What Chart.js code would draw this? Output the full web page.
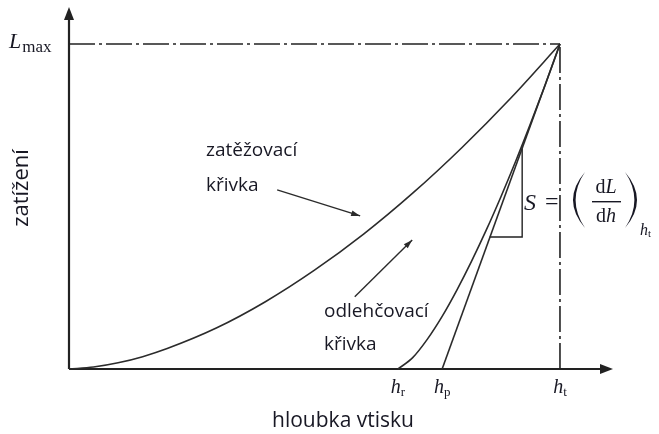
<!DOCTYPE html>
<html>
<head>
<meta charset="utf-8">
<script src="https://cdn.jsdelivr.net/npm/chart.js@4.4.1/dist/chart.umd.min.js"></script>
<style>
  html, body { margin: 0; padding: 0; background: #ffffff; }
  #wrap { width: 659px; height: 434px; }
</style>
</head>
<body>
<div id="wrap"><canvas id="c" width="659" height="434"></canvas></div>
<script>
// Indentation depth h (relative units, h_t = 100) and load L (L_max = 100)
const H_LOAD = [0, 5, 10, 15, 20, 30, 40, 50, 60, 70, 80, 90, 100];
const L_LOAD = [0, 0.6, 1.9, 3.8, 6.3, 12.6, 20.7, 30.4, 41.5, 54.1, 68.1, 83.4, 100];

const H_UNLOAD = [67, 70, 73, 76, 79, 82, 85, 88, 91, 94, 97, 100];
const L_UNLOAD = [0, 3.5, 9.2, 16.2, 24.3, 33.2, 42.8, 53.1, 64.0, 75.5, 87.5, 100];

// characteristic depths and maximum load
const H_R = 67;
const H_P = 76;
const H_T = 100;
const L_MAX = 100;

// slope triangle on the tangent
const H_TRI = [85.7, 92.3, 92.3];
const L_TRI = [40.6, 40.6, 67.9];

// pointer arrows (start -> tip)
const H_ARROW_LOAD = [42.4, 59.3];
const L_ARROW_LOAD = [55.1, 47.1];
const H_ARROW_UNLOAD = [58.2, 69.9];
const L_ARROW_UNLOAD = [22.2, 39.7];

// axis extents
const H_AXIS_END = 110.8;
const L_AXIS_END = 111.4;

const pts = (xs, ys) => xs.map((x, i) => ({ x: x, y: ys[i] }));

const INK = '#222222';
const CURVE = '#2b2b2b';
const TEXT = '#181824';
const SANS = '"Open Sans", "DejaVu Sans", sans-serif';
const SERIF = '"Liberation Serif", "DejaVu Serif", serif';

const line = (data, extra) => Object.assign({
  data: data, showLine: true, pointRadius: 0, borderColor: CURVE,
  borderWidth: 1.6, fill: false, tension: 0, clip: false
}, extra || {});

function arrowHead(ctx, x1, y1, x2, y2, len, half) {
  const a = Math.atan2(y2 - y1, x2 - x1);
  ctx.beginPath();
  ctx.moveTo(x2, y2);
  ctx.lineTo(x2 - len * Math.cos(a) + half * Math.sin(a), y2 - len * Math.sin(a) - half * Math.cos(a));
  ctx.lineTo(x2 - len * Math.cos(a) - half * Math.sin(a), y2 - len * Math.sin(a) + half * Math.cos(a));
  ctx.closePath();
  ctx.fill();
}

// tall parenthesis drawn as a filled crescent
function paren(ctx, endX, midOuter, midInner, top, bottom) {
  const cOut = (4 * midOuter - 2 * endX) / 2;
  const cIn = (4 * midInner - 2 * endX) / 2;
  const mid = (top + bottom) / 2;
  ctx.beginPath();
  ctx.moveTo(endX, top);
  ctx.quadraticCurveTo(cOut, mid, endX, bottom);
  ctx.quadraticCurveTo(cIn, mid, endX, top);
  ctx.closePath();
  ctx.fill();
}

// a run of text pieces laid out left to right
function run(ctx, parts, x, y) {
  let cx = x;
  parts.forEach(p => {
    ctx.font = p[1];
    ctx.fillText(p[0], cx, y + (p[2] || 0));
    cx += ctx.measureText(p[0]).width + (p[3] || 0);
  });
  return cx - x;
}
function runWidth(ctx, parts) {
  let w = 0;
  parts.forEach(p => { ctx.font = p[1]; w += ctx.measureText(p[0]).width + (p[3] || 0); });
  return w;
}

const decorations = {
  id: 'decorations',
  afterDatasetsDraw(chart) {
    const ctx = chart.ctx;
    const xs = chart.scales.x, ys = chart.scales.y;
    const px = v => xs.getPixelForValue(v);
    const py = v => ys.getPixelForValue(v);
    ctx.save();

    // axis arrowheads
    ctx.fillStyle = INK;
    arrowHead(ctx, px(0), py(0), px(0), py(L_AXIS_END), 13, 5);
    arrowHead(ctx, px(0), py(0), px(H_AXIS_END), py(0), 13, 5);

    // pointer arrowheads
    ctx.fillStyle = CURVE;
    arrowHead(ctx, px(H_ARROW_LOAD[0]), py(L_ARROW_LOAD[0]), px(H_ARROW_LOAD[1]), py(L_ARROW_LOAD[1]), 9, 2.8);
    arrowHead(ctx, px(H_ARROW_UNLOAD[0]), py(L_ARROW_UNLOAD[0]), px(H_ARROW_UNLOAD[1]), py(L_ARROW_UNLOAD[1]), 9, 2.8);

    // sans labels
    ctx.fillStyle = TEXT;
    ctx.textAlign = 'left';
    ctx.textBaseline = 'alphabetic';
    ctx.font = '19px ' + SANS;
    ctx.fillText('zatěžovací', 206, 156);
    ctx.fillText('křivka', 206, 191);
    ctx.fillText('odlehčovací', 324, 317);
    ctx.fillText('křivka', 324, 350);

    ctx.font = '21px ' + SANS;
    ctx.textAlign = 'center';
    ctx.fillText('hloubka vtisku', 343, 427);

    ctx.save();
    ctx.translate(28, 188);
    ctx.rotate(-Math.PI / 2);
    ctx.font = '22px ' + SANS;
    ctx.textAlign = 'center';
    ctx.fillText('zatížení', 0, 0);
    ctx.restore();

    // L_max on the load axis
    ctx.textAlign = 'left';
    run(ctx, [['L', 'italic 22px ' + SERIF, 0, 1], ['max', '17px ' + SERIF, 4]], 9, py(L_MAX) + 4);

    // depth labels h_r, h_p, h_t under the axis
    const hLabel = (h, sub) => {
      const parts = [['h', 'italic 20px ' + SERIF], [sub, '13px ' + SERIF, 3]];
      const w = runWidth(ctx, parts);
      run(ctx, parts, px(h) - w / 2, 393);
    };
    hLabel(H_R, 'r');
    hLabel(H_P, 'p');
    hLabel(H_T, 't');

    // stiffness formula S = (dL/dh)_{h_t}
    ctx.font = 'italic 24px ' + SERIF;
    ctx.fillText('S', 524, 210);
    ctx.font = '24px ' + SERIF;
    ctx.fillText('=', 545, 209);
    paren(ctx, 585, 573, 575.6, 172, 228);
    paren(ctx, 625, 637, 634.4, 172, 228);
    const num = [['d', '20px ' + SERIF], ['L', 'italic 20px ' + SERIF]];
    const den = [['d', '20px ' + SERIF], ['h', 'italic 20px ' + SERIF]];
    const fx = 606;
    run(ctx, num, fx - runWidth(ctx, num) / 2, 193);
    run(ctx, den, fx - runWidth(ctx, den) / 2, 222);
    ctx.fillRect(592, 201, 29, 1.4);
    run(ctx, [['h', 'italic 16px ' + SERIF], ['t', '11px ' + SERIF, 2]], 640, 235);

    ctx.restore();
  }
};

const whiteBg = {
  id: 'whiteBg',
  beforeDraw(chart) {
    const ctx = chart.ctx;
    ctx.save();
    ctx.fillStyle = '#ffffff';
    ctx.fillRect(0, 0, chart.width, chart.height);
    ctx.restore();
  }
};

new Chart(document.getElementById('c'), {
  type: 'scatter',
  data: {
    datasets: [
      // reference lines at L_max and h_t
      line([{ x: 0, y: L_MAX }, { x: H_T, y: L_MAX }], { borderColor: INK, borderWidth: 1.6, borderDash: [26, 4, 3, 4] }),
      line([{ x: H_T, y: 0 }, { x: H_T, y: L_MAX }], { borderColor: INK, borderWidth: 1.6, borderDash: [26, 4, 3, 4] }),
      // loading curve
      line(pts(H_LOAD, L_LOAD), { cubicInterpolationMode: 'monotone' }),
      // unloading curve
      line(pts(H_UNLOAD, L_UNLOAD), { cubicInterpolationMode: 'monotone' }),
      // tangent at the top of the unloading curve
      line([{ x: H_P, y: 0 }, { x: H_T, y: L_MAX }]),
      // slope triangle
      line(pts(H_TRI, L_TRI), { borderColor: INK, borderWidth: 1.4 }),
      // pointer arrows
      line(pts(H_ARROW_LOAD, L_ARROW_LOAD), { borderWidth: 1.4 }),
      line(pts(H_ARROW_UNLOAD, L_ARROW_UNLOAD), { borderWidth: 1.4 }),
      // axes
      line([{ x: 0, y: 0 }, { x: H_AXIS_END - 2, y: 0 }], { borderColor: INK, borderWidth: 2.2 }),
      line([{ x: 0, y: 0 }, { x: 0, y: L_AXIS_END - 2 }], { borderColor: INK, borderWidth: 2.2 })
    ]
  },
  options: {
    responsive: false,
    animation: false,
    events: [],
    layout: { padding: { left: 69, right: 46, top: 7, bottom: 65 } },
    scales: {
      x: { type: 'linear', min: 0, max: H_AXIS_END, display: false },
      y: { type: 'linear', min: 0, max: L_AXIS_END, display: false }
    },
    plugins: { legend: { display: false }, tooltip: { enabled: false } }
  },
  plugins: [whiteBg, decorations]
});
</script>
</body>
</html>
